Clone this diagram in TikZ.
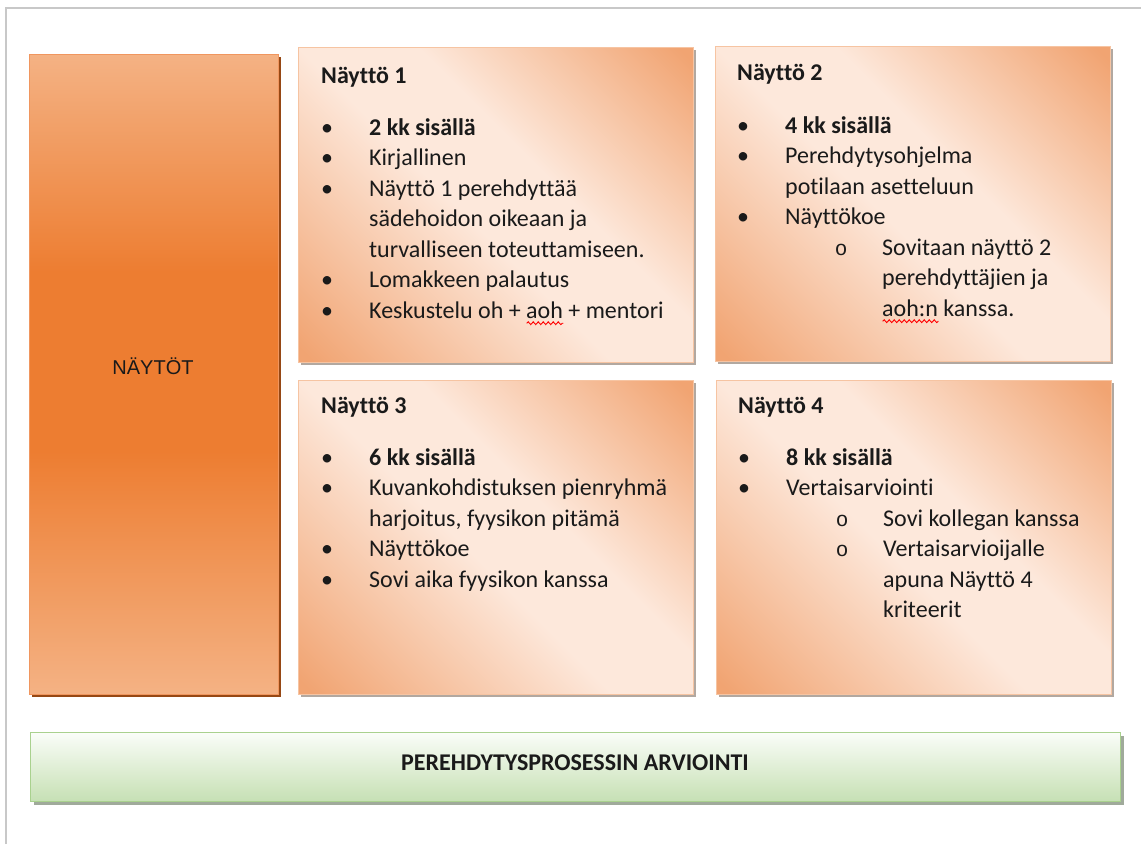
\documentclass[tikz,border=0pt]{standalone}
\usepackage{fontspec}
\setmainfont[Ligatures=CommonOff]{Carlito}
\newfontfamily\arialf{Liberation Sans}
\newfontfamily\monof{Liberation Mono}
\usetikzlibrary{decorations.pathmorphing,shadows}

\definecolor{peachD}{RGB}{241,164,114}
\definecolor{peachL}{RGB}{253,232,219}
\definecolor{peachB}{RGB}{246,196,162}
\definecolor{shadowG}{RGB}{178,168,160}
\definecolor{naytD}{RGB}{237,125,49}
\definecolor{naytL}{RGB}{244,178,132}
\definecolor{naytE}{RGB}{240,150,95}
\definecolor{naytS}{RGB}{150,72,20}
\definecolor{greenT}{RGB}{250,253,248}
\definecolor{greenB}{RGB}{198,224,180}
\definecolor{greenE}{RGB}{169,209,142}
\definecolor{greenS}{RGB}{160,170,155}
\definecolor{frameG}{RGB}{200,200,200}
\definecolor{inkC}{RGB}{26,26,26}

\pgfdeclarehorizontalshading{peachdiag}{100bp}{color(0bp)=(peachD); color(16bp)=(peachD); color(46bp)=(peachL); color(58bp)=(peachL); color(84bp)=(peachD); color(100bp)=(peachD)}
\pgfdeclareverticalshading{naytvert}{100bp}{color(0bp)=(naytL); color(25bp)=(naytL); color(44bp)=(naytD); color(58bp)=(naytD); color(75bp)=(naytL); color(100bp)=(naytL)}

\newcommand\bl{\makebox[48pt][l]{\makebox[12pt]{\textbullet}}}
\newcommand\ind{\hspace*{48pt}}
\newcommand\sbl{\hspace*{98pt}\makebox[47pt][l]{\makebox[12pt]{\monof\fontsize{21}{24}\selectfont o}}}
\newcommand\sind{\hspace*{145pt}}
\newcommand\hstrut{\rule{0pt}{22pt}}
\newsavebox\errbox
\newcommand\spellerr[1]{\sbox\errbox{#1}\rlap{\tikz[baseline=0pt]\draw[red,line width=0.9pt,decorate,decoration={snake,amplitude=1.4pt,segment length=5pt}] (0pt,-5pt) -- (\wd\errbox,-5pt);}\usebox\errbox}

\begin{document}
\begin{tikzpicture}[x=1pt,y=-1pt,
  pbox/.style={shade, shading=peachdiag, shading angle=45, draw=peachB, line width=0.8pt,
    inner sep=0pt, anchor=north west, minimum width=395pt, minimum height=315pt,
    general shadow={fill=shadowG, shadow xshift=3pt, shadow yshift=-3pt}},
  nbox/.style={shade, shading=naytvert, draw=naytE, line width=0.8pt,
    inner sep=0pt, anchor=north west, minimum width=249pt, minimum height=640pt,
    general shadow={fill=naytS, shadow xshift=3pt, shadow yshift=-3pt}},
  gbox/.style={top color=greenT, bottom color=greenB, draw=greenE, line width=1.2pt,
    inner sep=0pt, anchor=north west, minimum width=1090pt, minimum height=69pt,
    general shadow={fill=greenS, shadow xshift=3pt, shadow yshift=-3pt}},
  txt/.style={font=\fontsize{24}{30.5}\selectfont, align=left, inner sep=0pt, anchor=north west, text=inkC}
]
\useasboundingbox (0,0) rectangle (1141,844);
\fill[white] (0,0) rectangle (1141,844);
\draw[frameG, line width=1.5pt] (6,844) -- (6,8) -- (1141,8);

% boxes
\node[nbox] (nay) at (29,54) {};
\node[pbox] (b1) at (298,47) {};
\node[pbox] (b2) at (715,46) {};
\node[pbox, minimum height=314pt] (b3) at (298,380) {};
\node[pbox, minimum height=314pt] (b4) at (716,380) {};
\node[gbox] (eval) at (30,732) {};

% labels
\node[anchor=base, inner sep=0pt, text=inkC, font=\arialf\fontsize{20}{23}\selectfont] (naylbl) at (153,374) {NÄYTÖT};
\node[anchor=base, inner sep=0pt, text=inkC, font=\bfseries\fontsize{24}{28}\selectfont] (evallbl) at (575,770) {PEREHDYTYSPROSESSIN ARVIOINTI};

\node[txt] (t1) at (321,61) {%
{\hstrut\textbf{Näyttö 1}}\\[21.5pt]
\bl\textbf{2 kk sisällä}\\
\bl Kirjallinen\\
\bl Näyttö 1 perehdyttää\\
\ind sädehoidon oikeaan ja\\
\ind turvalliseen toteuttamiseen.\\
\bl Lomakkeen palautus\\
\bl Keskustelu oh + \spellerr{aoh} + mentori};

\node[txt] (t2) at (737,58) {%
{\hstrut\textbf{Näyttö 2}}\\[22.5pt]
\bl\textbf{4 kk sisällä}\\
\bl Perehdytysohjelma\\
\ind potilaan asetteluun\\
\bl Näyttökoe\\
\sbl Sovitaan näyttö 2\\
\sind perehdyttäjien ja\\
\sind \spellerr{aoh:n} kanssa.};

\node[txt] (t3) at (321,391) {%
{\hstrut\textbf{Näyttö 3}}\\[21.5pt]
\bl\textbf{6 kk sisällä}\\
\bl Kuvankohdistuksen pienryhmä\\
\ind harjoitus, fyysikon pitämä\\
\bl Näyttökoe\\
\bl Sovi aika fyysikon kanssa};

\node[txt] (t4) at (738,391) {%
{\hstrut\textbf{Näyttö 4}}\\[21.5pt]
\bl\textbf{8 kk sisällä}\\
\bl Vertaisarviointi\\
\sbl Sovi kollegan kanssa\\
\sbl Vertaisarvioijalle\\
\sind apuna Näyttö 4\\
\sind kriteerit};
\end{tikzpicture}
\end{document}
